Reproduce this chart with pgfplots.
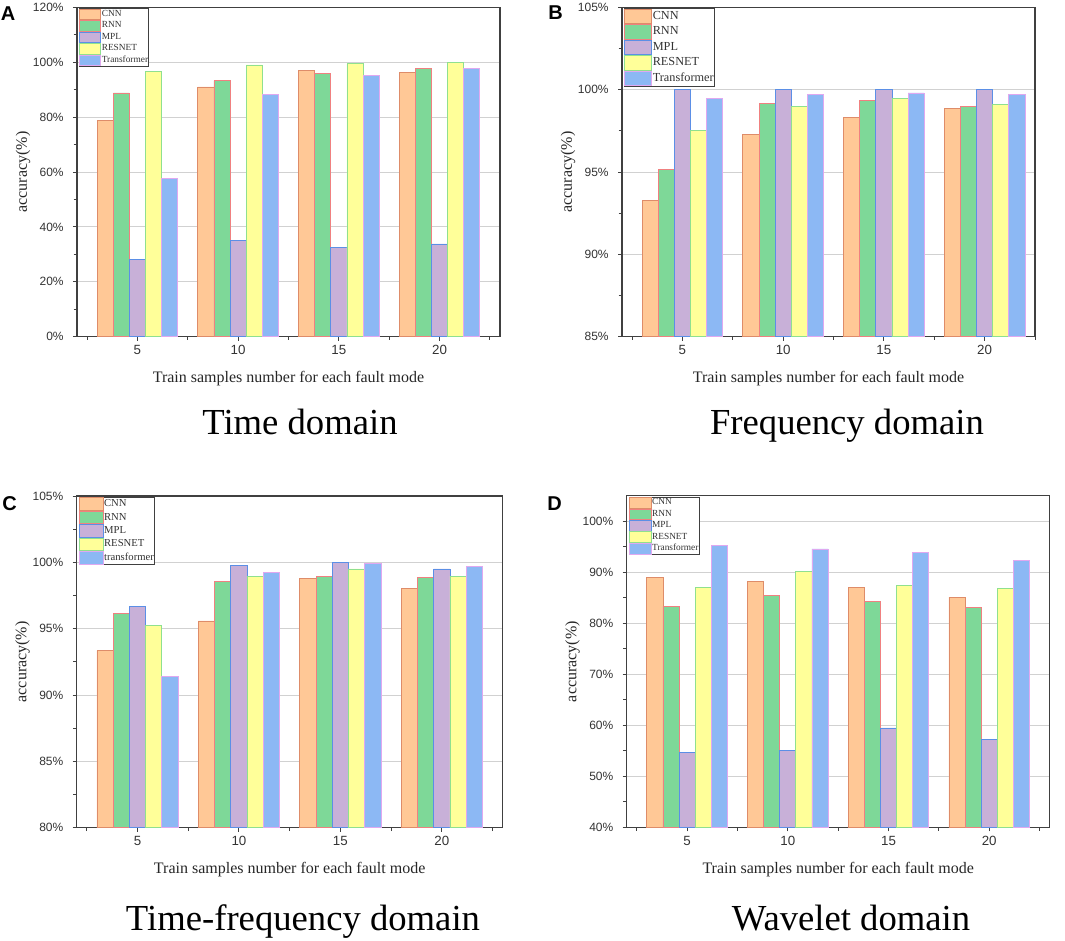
\documentclass[border=0pt]{standalone}
\usepackage{fontspec}
\setmainfont{Liberation Serif}
\newfontfamily\arial{Liberation Sans}
\usepackage{pgfplots}
\usepackage{pgfplotstable}
\pgfplotsset{compat=1.18}

\definecolor{cnnF}{RGB}{255,200,150}
\definecolor{cnnD}{RGB}{222,140,105}
\definecolor{rnnF}{RGB}{126,216,152}
\definecolor{rnnD}{RGB}{240,128,128}
\definecolor{mplF}{RGB}{200,176,216}
\definecolor{mplD}{RGB}{91,143,230}
\definecolor{resF}{RGB}{255,255,153}
\definecolor{resD}{RGB}{143,224,143}
\definecolor{traF}{RGB}{140,184,244}
\definecolor{traD}{RGB}{224,168,240}

\pgfplotstableread{
x cnn rnn mpl res tra
5 78.7 88.8 28.2 96.6 57.8
10 91.0 93.3 35.1 99.0 88.3
15 97.1 95.9 32.6 99.5 95.1
20 96.4 97.8 33.8 99.8 97.8
}\dataA
\pgfplotstableread{
x cnn rnn mpl res tra
5 93.28 95.16 100 97.55 99.47
10 97.29 99.17 100 98.99 99.72
15 98.32 99.33 100 99.47 99.80
20 98.85 98.97 100 99.11 99.72
}\dataB
\pgfplotstableread{
x cnn rnn mpl res tra
5 93.34 96.18 96.68 95.25 91.41
10 95.58 98.54 99.75 98.97 99.22
15 98.82 98.97 100 99.50 99.95
20 98.04 98.89 99.50 98.97 99.72
}\dataC
\pgfplotstableread{
x cnn rnn mpl res tra
5 89.0 83.3 54.65 87.04 95.2
10 88.15 85.47 55.04 90.18 94.57
15 87.1 84.36 59.49 87.5 93.91
20 85.14 83.1 57.26 86.84 92.34
}\dataD

\pgfplotsset{
  cnnS/.style={fill=cnnF, draw=cnnD, line width=0.6pt, bar shift=-1.6},
  rnnS/.style={fill=rnnF, draw=rnnD, line width=0.6pt, bar shift=-0.8},
  mplS/.style={fill=mplF, draw=mplD, line width=0.6pt, bar shift=0},
  resS/.style={fill=resF, draw=resD, line width=0.6pt, bar shift=0.8},
  traS/.style={fill=traF, draw=traD, line width=0.6pt, bar shift=1.6},
  leg/.style n args={4}{
    legend image code/.code={\draw[##1] (0pt,-#2) rectangle (#1,#2);},
    legend style={font=\fontsize{#3}{#4}\selectfont},
  },
  panel/.style={
    scale only axis, ybar, bar width=0.8,
    axis line style={draw=black!75, line width=0.9pt},
    every tick/.style={draw=black!75, line width=0.7pt},
    tick align=outside, major tick length=3pt, minor tick length=2.5pt,
    xtick pos=bottom, ytick pos=left,
    xtick={5,10,15,20}, minor xtick={2.5,7.5,12.5,17.5,22.5},
    ymajorgrids, major grid style={draw=black!18, line width=0.6pt},
    xticklabel style={font=\arial\fontsize{10}{12}\selectfont, text=black!80},
    yticklabel style={font=\arial\fontsize{9}{11}\selectfont, text=black!80, xshift=-3.5pt},
    /pgf/number format/assume math mode=true,
    yticklabel={\pgfmathprintnumber[fixed,precision=0]{\tick}\%},
    xlabel={Train samples number for each fault mode},
    ylabel={accuracy(\%)},
    every axis x label/.style={at={(axis description cs:0.5,0)}, anchor=base, yshift=-34.5pt, font=\fontsize{12}{14}\selectfont, text=black!85},
    every axis y label/.style={at={(axis description cs:0,0.5)}, rotate=90, anchor=center, yshift=40.5pt, font=\fontsize{12}{14}\selectfont, text=black!85},
    legend cell align=left,
    legend style={at={(rel axis cs:0,1)}, anchor=north west, xshift=1.5pt, yshift=-0.75pt,
      draw=black!75, line width=0.5pt, inner sep=0pt, row sep=0pt,
      nodes={inner sep=0.5pt, text=black!80}},
  },
}

\begin{document}
\begin{tikzpicture}
\path[use as bounding box] (0pt,0pt) rectangle (798.75pt,705pt);

% Panel A
\begin{axis}[panel, at={(57.75pt,452.5pt)}, anchor=south west,
  width=317.25pt, height=247pt, xmin=2, xmax=23, ymin=0, ymax=120,
  ytick={0,20,...,120}, minor ytick={10,30,...,110},
  leg={15.75pt}{4pt}{7}{8}]
\addplot[cnnS] table[x=x,y=cnn] {\dataA}; \addlegendentry{CNN}
\addplot[rnnS] table[x=x,y=rnn] {\dataA}; \addlegendentry{RNN}
\addplot[mplS] table[x=x,y=mpl] {\dataA}; \addlegendentry{MPL}
\addplot[resS] table[x=x,y=res] {\dataA}; \addlegendentry{RESNET}
\addplot[traS] table[x=x,y=tra] {\dataA}; \addlegendentry{Transformer}
\end{axis}

% Panel B
\begin{axis}[panel, at={(466.5pt,452.5pt)}, anchor=south west,
  width=309.75pt, height=247pt, xmin=2, xmax=22.5, ymin=85, ymax=105,
  ytick={85,90,...,105}, minor ytick={87.5,92.5,97.5,102.5},
  leg={20.25pt}{5.5pt}{9.2}{10}]
\addplot[cnnS] table[x=x,y=cnn] {\dataB}; \addlegendentry{CNN}
\addplot[rnnS] table[x=x,y=rnn] {\dataB}; \addlegendentry{RNN}
\addplot[mplS] table[x=x,y=mpl] {\dataB}; \addlegendentry{MPL}
\addplot[resS] table[x=x,y=res] {\dataB}; \addlegendentry{RESNET}
\addplot[traS] table[x=x,y=tra] {\dataB}; \addlegendentry{Transformer}
\end{axis}

% Panel C
\begin{axis}[panel, at={(57.5pt,84.2pt)}, anchor=south west,
  width=319.5pt, height=248.8pt, xmin=2, xmax=23, ymin=80, ymax=105,
  ytick={80,85,...,105}, minor ytick={82.5,87.5,92.5,97.5,102.5},
  leg={17.75pt}{4.75pt}{8}{9}]
\addplot[cnnS] table[x=x,y=cnn] {\dataC}; \addlegendentry{CNN}
\addplot[rnnS] table[x=x,y=rnn] {\dataC}; \addlegendentry{RNN}
\addplot[mplS] table[x=x,y=mpl] {\dataC}; \addlegendentry{MPL}
\addplot[resS] table[x=x,y=res] {\dataC}; \addlegendentry{RESNET}
\addplot[traS] table[x=x,y=tra] {\dataC}; \addlegendentry{transformer}
\end{axis}

% Panel D
\begin{axis}[panel, at={(470pt,84.4pt)}, anchor=south west,
  width=317.25pt, height=248.8pt, xmin=2, xmax=23, ymin=40, ymax=105,
  ytick={40,50,...,100}, minor ytick={45,55,...,95},
  leg={16.25pt}{4pt}{7}{8}]
\addplot[cnnS] table[x=x,y=cnn] {\dataD}; \addlegendentry{CNN}
\addplot[rnnS] table[x=x,y=rnn] {\dataD}; \addlegendentry{RNN}
\addplot[mplS] table[x=x,y=mpl] {\dataD}; \addlegendentry{MPL}
\addplot[resS] table[x=x,y=res] {\dataD}; \addlegendentry{RESNET}
\addplot[traS] table[x=x,y=tra] {\dataD}; \addlegendentry{Transformer}
\end{axis}

% panel letters
\node[anchor=north west, inner sep=0pt, font=\arial\bfseries\fontsize{15}{16}\selectfont] at (0.5pt,700pt) {A};
\node[anchor=north west, inner sep=0pt, font=\arial\bfseries\fontsize{15}{16}\selectfont] at (411pt,701.25pt) {B};
\node[anchor=north west, inner sep=0pt, font=\arial\bfseries\fontsize{15}{16}\selectfont] at (1.5pt,332.5pt) {C};
\node[anchor=north west, inner sep=0pt, font=\arial\bfseries\fontsize{15}{16}\selectfont] at (410.25pt,333pt) {D};

% titles
\node[anchor=base, inner sep=0pt, font=\fontsize{27.5}{30}\selectfont] at (225pt,378.75pt) {Time domain};
\node[anchor=base, inner sep=0pt, font=\fontsize{27.5}{30}\selectfont] at (635.25pt,378.75pt) {Frequency domain};
\node[anchor=base, inner sep=0pt, font=\fontsize{27.5}{30}\selectfont] at (227.25pt,7.5pt) {Time-frequency domain};
\node[anchor=base, inner sep=0pt, font=\fontsize{27.5}{30}\selectfont] at (638.25pt,7.5pt) {Wavelet domain};
\end{tikzpicture}
\end{document}
